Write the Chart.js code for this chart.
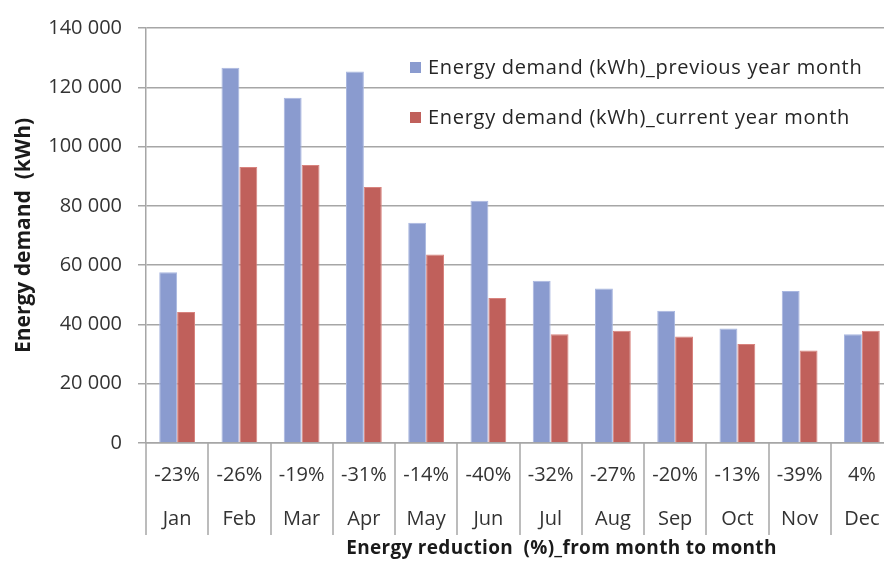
<!DOCTYPE html>
<html>
<head>
<meta charset="utf-8">
<script src="https://cdn.jsdelivr.net/npm/chart.js@4/dist/chart.umd.min.js"></script>
<style>
  html, body { margin: 0; padding: 0; background: #fff; overflow: hidden; }
  #wrap { width: 884px; height: 561px; overflow: hidden; }
</style>
</head>
<body>
<div id="wrap"><canvas id="energyChart" width="893" height="561"></canvas></div>
<script>
const months = ["Jan", "Feb", "Mar", "Apr", "May", "Jun", "Jul", "Aug", "Sep", "Oct", "Nov", "Dec"];
const reduction = [-23, -26, -19, -31, -14, -40, -32, -27, -20, -13, -39, 4];
const previousYear = [57600, 126600, 116500, 125300, 74300, 81700, 54700, 52100, 44600, 38600, 51300, 36700];
const currentYear = [44200, 93100, 93800, 86400, 63600, 48900, 36700, 37900, 35900, 33400, 31200, 37900];
const yTicks = [0, 20000, 40000, 60000, 80000, 100000, 120000, 140000];

const FONT = "'Open Sans', 'DejaVu Sans', sans-serif";
const gridGray = "#a6a6a6";

const fmt = (v) => String(v).replace(/\B(?=(\d{3})+(?!\d))/g, " ");

// vertical separators under the x axis + legend inside the plot
const extras = {
  id: "extras",
  afterDraw(chart) {
    const ctx = chart.ctx;
    const x = chart.scales.x;
    const area = chart.chartArea;
    const step = (x.right - x.left) / months.length;
    ctx.save();
    ctx.strokeStyle = gridGray;
    ctx.lineWidth = 1.5;
    for (let i = 0; i <= months.length; i++) {
      const px = Math.round(x.left + i * step);
      ctx.beginPath();
      ctx.moveTo(px, area.bottom);
      ctx.lineTo(px, area.bottom + 92);
      ctx.stroke();
    }

    // x title
    ctx.fillStyle = "#1a1a1a";
    ctx.font = "bold 19px " + FONT;
    ctx.letterSpacing = "0.3px";
    ctx.textAlign = "center";
    ctx.textBaseline = "middle";
    ctx.fillText("Energy reduction  (%)_from month to month", (x.left + x.right) / 2 + 42, area.bottom + 106);

    // legend
    ctx.font = "20px " + FONT;
    ctx.letterSpacing = "0.7px";
    ctx.textAlign = "left";
    chart.data.datasets.forEach((ds, i) => {
      const by = area.top + 40 + i * 50;
      const bx = area.left + 264;
      ctx.fillStyle = ds.backgroundColor;
      ctx.fillRect(bx, by - 6, 11, 11);
      ctx.fillStyle = "#262626";
      ctx.fillText(ds.label, bx + 18, by);
    });
    ctx.restore();
  },
};

new Chart("energyChart", {
  type: "bar",
  data: {
    labels: months.map((m, i) => [`${reduction[i]}%`, m]),
    datasets: [
      {
        label: "Energy demand (kWh)_previous year month",
        data: previousYear,
        backgroundColor: "#8a9bcf",
        borderColor: "#a9b7e0",
        borderWidth: 1,
        borderSkipped: "bottom",
        categoryPercentage: 0.575,
        barPercentage: 1,
      },
      {
        label: "Energy demand (kWh)_current year month",
        data: currentYear,
        backgroundColor: "#c0605b",
        borderColor: "#d8837e",
        borderWidth: 1,
        borderSkipped: "bottom",
        categoryPercentage: 0.575,
        barPercentage: 1,
      },
    ],
  },
  options: {
    responsive: false,
    animation: false,
    layout: { padding: { top: 24, right: 0, left: 0, bottom: 0 } },
    plugins: {
      legend: { display: false },
      tooltip: { enabled: false },
    },
    scales: {
      x: {
        grid: { display: false },
        border: { display: true, color: gridGray, width: 1.5 },
        ticks: {
          color: "#333",
          font: { family: FONT, size: 20, lineHeight: 2.2 },
          padding: 2,
          maxRotation: 0,
          autoSkip: false,
        },
        afterFit: (s) => { s.height = 118; },
      },
      y: {
        min: 0,
        max: 140000,
        afterBuildTicks: (s) => { s.ticks = yTicks.map((v) => ({ value: v })); },
        grid: { color: gridGray, lineWidth: 1.5, tickLength: 8 },
        border: { color: gridGray, width: 1.5 },
        ticks: {
          color: "#333",
          font: { family: FONT, size: 20 },
          padding: 16,
          callback: (v) => fmt(v),
        },
        title: {
          display: true,
          text: "Energy demand  (kWh)",
          color: "#1a1a1a",
          font: { family: FONT, size: 21, weight: "bold" },
          padding: { top: 11, bottom: 0 },
        },
        afterFit: (s) => { s.width = 146; },
      },
    },
  },
  plugins: [extras],
});
</script>
</body>
</html>
